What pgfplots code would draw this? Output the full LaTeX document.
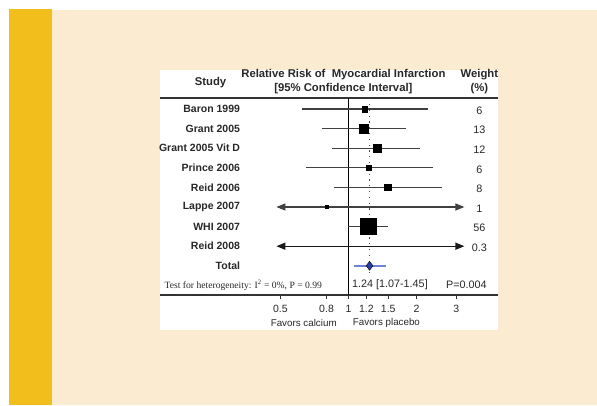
\documentclass[border=0pt]{standalone}
\usepackage{pgfplots}
\pgfplotsset{compat=1.18}
\usepackage{fontspec}
\setmainfont{Liberation Sans}
\newfontfamily\serifx{Liberation Serif}
\usetikzlibrary{arrows.meta}
\definecolor{stripyellow}{RGB}{242,190,28}
\definecolor{creambg}{RGB}{251,235,208}
\definecolor{tblue}{RGB}{40,60,170}
\definecolor{lblue}{RGB}{110,130,215}
\definecolor{txt}{RGB}{40,40,40}
\newcommand{\lab}{\bfseries\fontsize{10.5}{12}\selectfont}
\newcommand{\hdr}{\bfseries\fontsize{11.3}{13}\selectfont}
\newcommand{\num}{\fontsize{10.8}{12}\selectfont}
\begin{document}
\begin{tikzpicture}[x=1pt,y=1pt]
\useasboundingbox (0,0) rectangle (597,405);
\fill[white] (0,0) rectangle (597,405);
\fill[creambg] (52,0) rectangle (597,395);
\fill[stripyellow] (9,0) rectangle (52,396);
\fill[white] (160,75) rectangle (498,335);
\begin{axis}[
  at={(160pt,110pt)}, anchor=south west,
  scale only axis, width=338pt, height=197.3pt,
  xmode=log, xmin=0.1466, xmax=4.59,
  ymin=0.4235, ymax=10.49, y dir=reverse,
  axis x line=box, axis y line=none,
  x axis line style={line width=1.6pt, black!80},
  xtick={0.5,0.8,1,1.2,1.5,2,3},
  xticklabels={0.5,0.8,1,1.2,1.5,2,3},
  xtick pos=bottom,
  tick align=outside,
  major tick length=4pt,
  xtick style={line width=0.9pt, black!80},
  xticklabel style={font=\fontsize{10.5}{12}\selectfont, text=txt, yshift=-3pt},
  ytick=\empty,
  clip=false,
]
% reference lines
\addplot[black, line width=1pt] coordinates {(1,0.4235) (1,10.49)};
\addplot[black!70, line width=1.1pt, dash pattern=on 1.2pt off 4.6pt] coordinates {(1.24,0.45) (1.24,9.5)};
% confidence intervals
\addplot[black!75, line width=1.1pt] coordinates {(0.62,1) (2.25,1)};
\addplot[black!75, line width=1.1pt] coordinates {(0.76,2) (1.80,2)};
\addplot[black!75, line width=1.1pt] coordinates {(0.85,3) (2.08,3)};
\addplot[black!75, line width=1.1pt] coordinates {(0.65,4) (2.36,4)};
\addplot[black!75, line width=1.1pt] coordinates {(0.86,5) (2.60,5)};
\addplot[black!75, line width=1.1pt, {Triangle[length=9pt,width=7pt]}-{Triangle[length=9pt,width=7pt]}] coordinates {(0.48,6) (3.26,6)};
\addplot[black!75, line width=1.1pt] coordinates {(1.00,7) (1.50,7)};
\addplot[black!90, line width=1.4pt, {Triangle[length=9pt,width=7pt]}-{Triangle[length=9pt,width=7pt]}] coordinates {(0.48,8) (3.26,8)};
% point estimates
\addplot[only marks, mark=square*, mark size=2.9pt, mark options={draw=none, fill=black}] coordinates {(1.18,1)};
\addplot[only marks, mark=square*, mark size=4.2pt, mark options={draw=none, fill=black}] coordinates {(1.17,2)};
\addplot[only marks, mark=square*, mark size=4.0pt, mark options={draw=none, fill=black}] coordinates {(1.34,3)};
\addplot[only marks, mark=square*, mark size=2.7pt, mark options={draw=none, fill=black}] coordinates {(1.23,4)};
\addplot[only marks, mark=square*, mark size=3.2pt, mark options={draw=none, fill=black}] coordinates {(1.49,5)};
\addplot[only marks, mark=square*, mark size=1.5pt, mark options={draw=none, fill=black}] coordinates {(0.80,6)};
\addplot[only marks, mark=square*, mark size=8.0pt, mark options={draw=none, fill=black}] coordinates {(1.22,7)};
% total
\addplot[lblue, line width=1.8pt] coordinates {(1.06,9) (1.46,9)};
\addplot[only marks, mark=diamond*, mark size=4.5pt, mark options={draw=none, fill=tblue}] coordinates {(1.24,9)};
% header
\node[font=\hdr, text=txt] at (axis cs:0.2454,-0.36) {Study};
\node[font=\hdr, text=txt] at (axis cs:0.950,-0.77) {Relative Risk of~ Myocardial Infarction};
\node[font=\hdr, text=txt] at (axis cs:0.950,-0.05) {[95\% Confidence Interval]};
\node[font=\hdr, text=txt, anchor=west, inner sep=0pt] at (axis cs:3.13,-0.75) {Weight};
\node[font=\hdr, text=txt] at (axis cs:3.80,-0.03) {(\%)};
% study labels
\node[font=\lab, text=txt, anchor=east] at (axis cs:0.3434,1) {Baron 1999};
\node[font=\lab, text=txt, anchor=east] at (axis cs:0.3434,2) {Grant 2005};
\node[font=\lab, text=txt, anchor=east] at (axis cs:0.3434,3) {Grant 2005 Vit D};
\node[font=\lab, text=txt, anchor=east] at (axis cs:0.3434,4) {Prince 2006};
\node[font=\lab, text=txt, anchor=east] at (axis cs:0.3434,5) {Reid 2006};
\node[font=\lab, text=txt, anchor=east] at (axis cs:0.3434,6) {Lappe 2007};
\node[font=\lab, text=txt, anchor=east] at (axis cs:0.3434,7) {WHI 2007};
\node[font=\lab, text=txt, anchor=east] at (axis cs:0.3434,8) {Reid 2008};
\node[font=\lab, text=txt, anchor=east] at (axis cs:0.3434,9) {Total};
% weights
\node[font=\num, text=txt] at (axis cs:3.80,1.08) {6};
\node[font=\num, text=txt] at (axis cs:3.80,2.08) {13};
\node[font=\num, text=txt] at (axis cs:3.80,3.08) {12};
\node[font=\num, text=txt] at (axis cs:3.80,4.08) {6};
\node[font=\num, text=txt] at (axis cs:3.80,5.08) {8};
\node[font=\num, text=txt] at (axis cs:3.80,6.08) {1};
\node[font=\num, text=txt] at (axis cs:3.80,7.08) {56};
\node[font=\num, text=txt] at (axis cs:3.80,8.08) {0.3};
% bottom row
\node[font=\serifx\fontsize{9.6}{11}\selectfont, text=txt, anchor=west, inner sep=0pt] at (axis cs:0.1535,9.98) {Test for heterogeneity: I\textsuperscript{2} = 0\%, P = 0.99};
\node[font=\num, text=txt, anchor=west, inner sep=0pt] at (axis cs:1.036,9.98) {1.24 [1.07-1.45]};
\node[font=\num, text=txt, anchor=east, inner sep=0pt] at (axis cs:4.10,9.98) {P=0.004};
% favours
\node[font=\fontsize{9.8}{12}\selectfont, text=txt, anchor=east, inner sep=0pt] at (axis cs:0.889,11.9) {Favors calcium};
\node[font=\fontsize{9.8}{12}\selectfont, text=txt, anchor=west, inner sep=0pt] at (axis cs:1.045,11.9) {Favors placebo};
\end{axis}
\end{tikzpicture}
\end{document}
